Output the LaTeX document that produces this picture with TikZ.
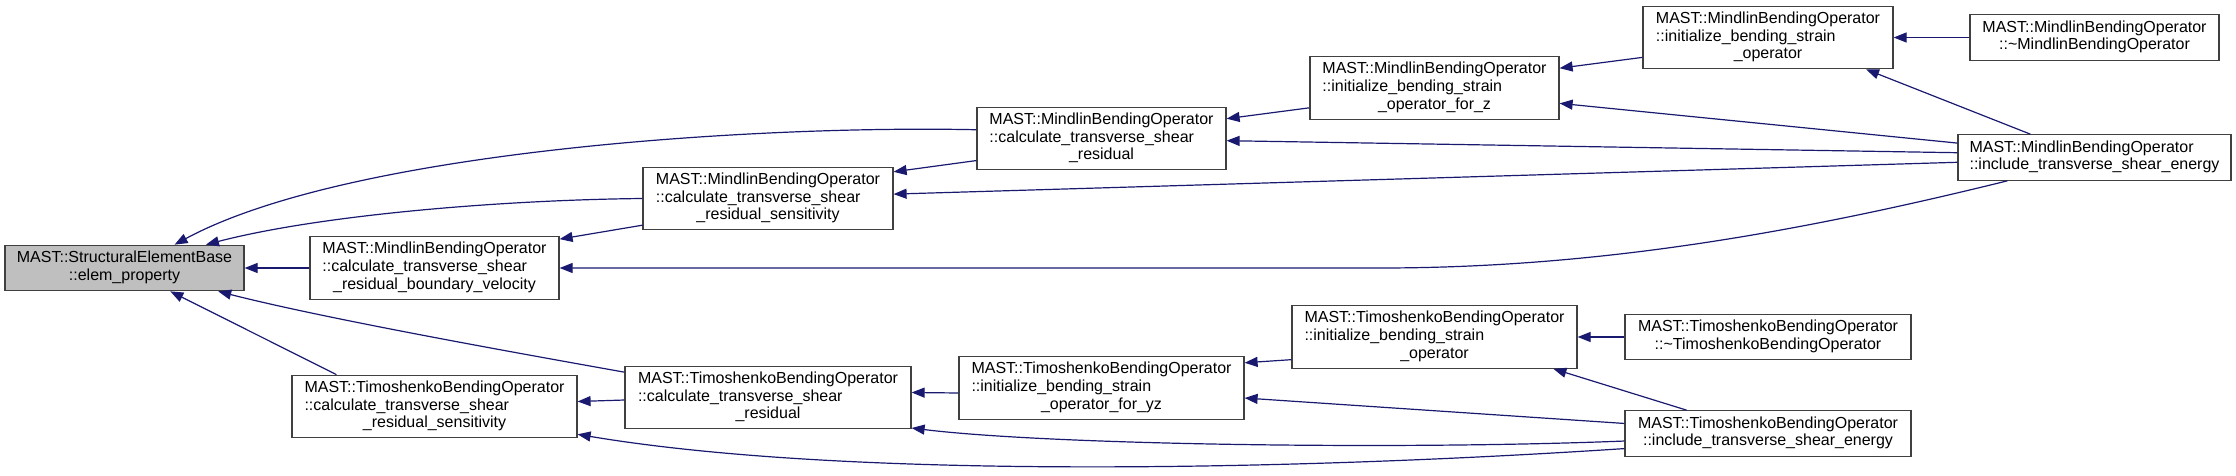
\documentclass[tikz,border=0pt]{standalone}
\usepackage{fontspec}
\setmainfont{Liberation Sans}
\usepackage{tikz}
\usetikzlibrary{arrows.meta}
\definecolor{cgblue}{HTML}{191970}
\tikzset{
  cgbox/.style={draw=black!75, line width=0.6pt, fill=white, inner sep=0pt,
    font=\fontsize{8}{8.85}\selectfont, minimum height=31.25pt},
  cgroot/.style={cgbox, fill=black!25},
  cgshort/.style={minimum height=22.75pt},
  cgarrow/.style={-{Triangle[length=6.5pt,width=5pt]}, draw=cgblue, line width=0.6pt},
}
\newcommand{\fnname}[2]{\begin{tabular}{@{}l@{}}#1\\\multicolumn{1}{@{}c@{}}{#2}\end{tabular}}

\begin{document}
\begin{tikzpicture}[x=0.5pt,y=-0.5pt]
  \useasboundingbox (0,0) rectangle (2236,476);
  \node[cgroot, cgshort, minimum width=119.5pt] (elem) at (124.5,268) {\fnname{MAST::StructuralElementBase}{::elem\_property}};
  \node[cgbox, minimum width=124.5pt] (bv) at (434.5,268) {\fnname{MAST::MindlinBendingOperator\\::calculate\_transverse\_shear}{\_residual\_boundary\_velocity}};
  \node[cgbox, minimum width=142.5pt] (tsens) at (434.5,406.5) {\fnname{MAST::TimoshenkoBendingOperator\\::calculate\_transverse\_shear}{\_residual\_sensitivity}};
  \node[cgbox, minimum width=125pt] (msens) at (768,198.5) {\fnname{MAST::MindlinBendingOperator\\::calculate\_transverse\_shear}{\_residual\_sensitivity}};
  \node[cgbox, minimum width=143pt] (tres) at (768,397.5) {\fnname{MAST::TimoshenkoBendingOperator\\::calculate\_transverse\_shear}{\_residual}};
  \node[cgbox, minimum width=124.5pt] (mres) at (1101.5,138.5) {\fnname{MAST::MindlinBendingOperator\\::calculate\_transverse\_shear}{\_residual}};
  \node[cgbox, minimum width=142.5pt] (tinityz) at (1101.5,388) {\fnname{MAST::TimoshenkoBendingOperator\\::initialize\_bending\_strain}{\_operator\_for\_yz}};
  \node[cgbox, minimum width=124.5pt] (minitz) at (1434.5,88) {\fnname{MAST::MindlinBendingOperator\\::initialize\_bending\_strain}{\_operator\_for\_z}};
  \node[cgbox, minimum width=142.5pt] (tinit) at (1434.5,337) {\fnname{MAST::TimoshenkoBendingOperator\\::initialize\_bending\_strain}{\_operator}};
  \node[cgbox, minimum width=125pt] (minit) at (1768,37.5) {\fnname{MAST::MindlinBendingOperator\\::initialize\_bending\_strain}{\_operator}};
  \node[cgbox, cgshort, minimum width=143pt] (tdtor) at (1768,337) {\fnname{MAST::TimoshenkoBendingOperator}{::\textasciitilde TimoshenkoBendingOperator}};
  \node[cgbox, cgshort, minimum width=143pt] (teng) at (1768,433.5) {\fnname{MAST::TimoshenkoBendingOperator}{::include\_transverse\_shear\_energy}};
  \node[cgbox, cgshort, minimum width=124.5pt] (mdtor) at (2094.5,37.5) {\fnname{MAST::MindlinBendingOperator}{::\textasciitilde MindlinBendingOperator}};
  \node[cgbox, cgshort, minimum width=136.5pt] (meng) at (2094.5,157.5) {\fnname{MAST::MindlinBendingOperator}{::include\_transverse\_shear\_energy}};
  \foreach \a/\b in {bv.west/elem.east, tsens.162/elem.-27, msens.192/bv.13, mres.190/msens.12,
      meng.182/msens.2, minitz.189/mres.9, meng.178/mres.-1, minit.189/minitz.9, meng.174/minitz.-7,
      mdtor.west/minit.east, meng.160/minit.-18, tres.181/tsens.2, tinityz.182/tres.2,
      tinit.189/tinityz.10, teng.176/tinityz.-4, tdtor.west/tinit.east, teng.164/tinit.-15}
    \draw[cgarrow] (\a) -- (\b);
  \draw[cgarrow] (mres.176) .. controls (760,125) and (350,150) .. (elem.25);
  \draw[cgarrow] (msens.west) .. controls (500,200) and (320,215) .. (elem.16);
  \draw[cgarrow] (tres.170) .. controls (540,357) and (330,320) .. (elem.-14);
  \draw[cgarrow] (meng.195) .. controls (1800,232) and (1600,268) .. (1380,268) -- (bv.east);
  \draw[cgarrow] (teng.186) .. controls (1300,470) and (850,480) .. (tsens.-11);
  \draw[cgarrow] (teng.183) .. controls (1400,450) and (1050,445) .. (tres.-12);
\end{tikzpicture}
\end{document}
